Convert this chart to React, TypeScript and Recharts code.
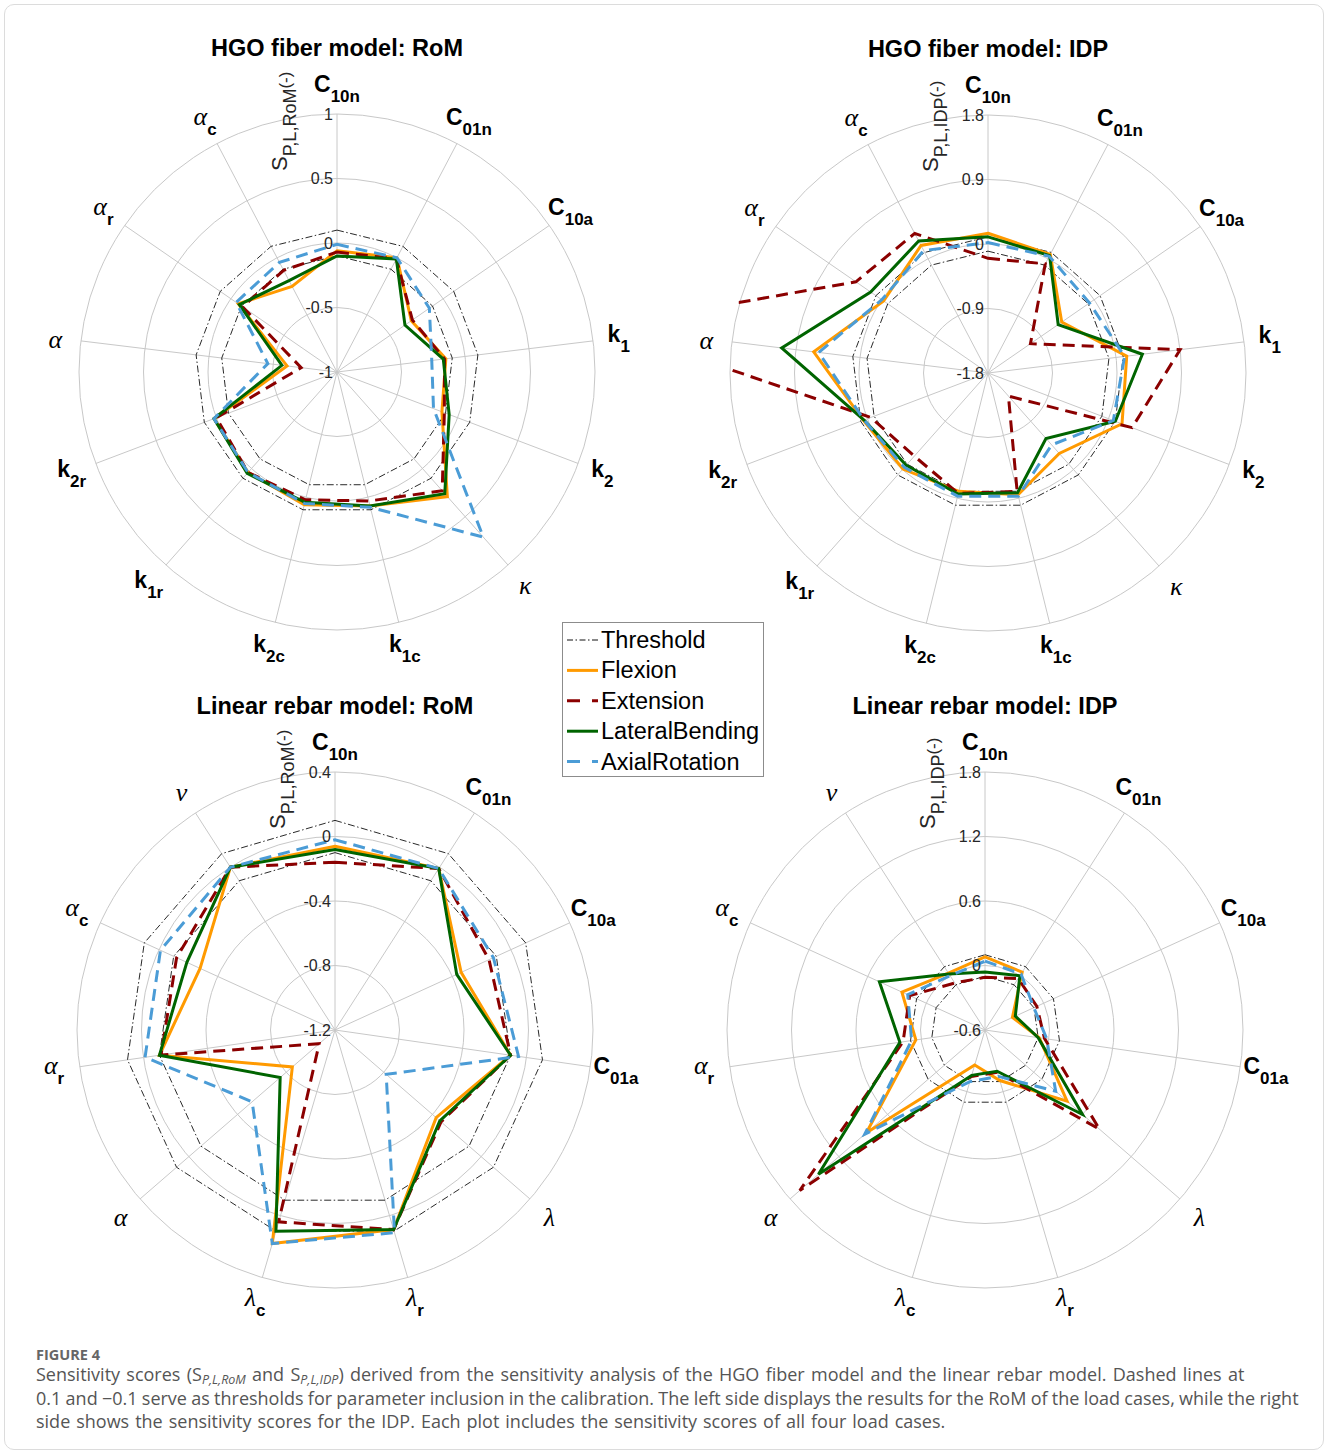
import { PolarAngleAxis, PolarGrid, PolarRadiusAxis, Radar, RadarChart } from "recharts";

const SANS = "'Liberation Sans', Arial, Helvetica, sans-serif";
const SERIF = "'Liberation Serif', 'Times New Roman', serif";

// axis categories (main_sub)
const hgoParams = ["C_10n", "C_01n", "C_10a", "k_1", "k_2", "κ", "k_1c", "k_2c", "k_1r", "k_2r", "α", "α_r", "α_c"];
const rebarParams = ["C_10n", "C_01n", "C_10a", "C_01a", "λ", "λ_r", "λ_c", "α", "α_r", "α_c", "ν"];

// radial ticks
const hgoRomTicks = [-1, -0.5, 0, 0.5, 1];
const hgoIdpTicks = [-1.8, -0.9, 0, 0.9, 1.8];
const rebarRomTicks = [-1.2, -0.8, -0.4, 0, 0.4];
const rebarIdpTicks = [-0.6, 0, 0.6, 1.2, 1.8];

// HGO fiber model: RoM
const hgoRomFlexion = [-0.06, 0.0, -0.3, -0.15, -0.13, 0.29, 0.07, 0.06, 0.04, 0.02, -0.61, -0.07, -0.25];
const hgoRomExtension = [-0.07, -0.01, -0.29, -0.16, -0.11, 0.23, 0.03, 0.02, 0.04, 0.0, -0.72, -0.11, -0.11];
const hgoRomLateral = [-0.1, -0.01, -0.36, -0.17, -0.07, 0.26, 0.07, 0.04, 0.05, 0.02, -0.57, -0.08, -0.2];
const hgoRomAxial = [-0.01, 0.0, -0.13, -0.26, -0.2, 0.71, 0.08, 0.05, 0.04, 0.02, -0.46, -0.05, -0.04];

// HGO fiber model: IDP
const hgoIdpFlexion = [0.15, 0.07, -0.55, 0.15, 0.2, -0.3, -0.05, -0.1, -0.01, 0.06, 0.65, -0.03, 0.21];
const hgoIdpExtension = [-0.2, -0.08, -1.08, 0.9, 0.35, -1.37, -0.1, -0.07, -0.25, -0.05, 3.6, 0.44, 0.4];
const hgoIdpLateral = [0.1, 0.05, -0.61, 0.37, 0.1, -0.58, -0.08, -0.06, -0.08, 0.05, 1.1, 0.19, 0.28];
const hgoIdpAxial = [0.02, 0.04, -0.08, 0.12, 0.07, -0.46, -0.03, -0.03, -0.04, 0.05, 0.58, 0.0, 0.13];

// Linear rebar model: RoM
const rebarRomFlexion = [-0.06, -0.01, -0.34, -0.1, -0.37, 0.09, 0.18, -0.85, -0.1, -0.28, 0.0];
const rebarRomExtension = [-0.16, -0.01, -0.15, -0.1, -0.33, 0.09, 0.04, -1.07, -0.11, -0.12, 0.0];
const rebarRomLateral = [-0.08, -0.01, -0.37, -0.1, -0.34, 0.09, 0.1, -0.75, -0.1, -0.19, 0.0];
const rebarRomAxial = [-0.02, -0.01, -0.12, -0.05, -0.78, 0.11, 0.18, -0.52, -0.01, -0.01, 0.0];

// Linear rebar model: IDP
const rebarIdpFlexion = [0.08, 0.04, -0.32, -0.09, 0.41, -0.11, -0.26, 0.86, 0.05, 0.25, 0.03];
const rebarIdpExtension = [-0.11, -0.03, -0.07, -0.04, 0.81, -0.19, -0.15, 1.68, 0.17, 0.17, -0.08];
const rebarIdpLateral = [-0.06, 0.0, -0.29, -0.1, 0.6, -0.2, -0.16, 1.45, 0.2, 0.48, 0.02];
const rebarIdpAxial = [0.04, 0.02, -0.1, -0.02, 0.27, -0.15, -0.1, 0.88, 0.09, 0.19, 0.0];

const THRESHOLD = 0.1;

const series = [
  { key: "flexion", name: "Flexion", color: "#FF9A00", dash: undefined as string | undefined },
  { key: "extension", name: "Extension", color: "#8B0000", dash: "12 7" },
  { key: "lateral", name: "LateralBending", color: "#006400", dash: undefined },
  { key: "axial", name: "AxialRotation", color: "#4B9CD6", dash: "12 7" },
];

const W = 664;
const H = 680;
const R = 258;

const panels = [
  { id: "tl", title: "HGO fiber model: RoM", metric: "RoM", left: 0, top: 0, cx: 337, cy: 372, params: hgoParams, ticks: hgoRomTicks,
    flexion: hgoRomFlexion, extension: hgoRomExtension, lateral: hgoRomLateral, axial: hgoRomAxial },
  { id: "tr", title: "HGO fiber model: IDP", metric: "IDP", left: 664, top: 0, cx: 324, cy: 373, params: hgoParams, ticks: hgoIdpTicks,
    flexion: hgoIdpFlexion, extension: hgoIdpExtension, lateral: hgoIdpLateral, axial: hgoIdpAxial },
  { id: "bl", title: "Linear rebar model: RoM", metric: "RoM", left: 0, top: 680, cx: 335, cy: 350, params: rebarParams, ticks: rebarRomTicks,
    flexion: rebarRomFlexion, extension: rebarRomExtension, lateral: rebarRomLateral, axial: rebarRomAxial },
  { id: "br", title: "Linear rebar model: IDP", metric: "IDP", left: 664, top: 680, cx: 321, cy: 350, params: rebarParams, ticks: rebarIdpTicks,
    flexion: rebarIdpFlexion, extension: rebarIdpExtension, lateral: rebarIdpLateral, axial: rebarIdpAxial },
];

const makeAngleTick = (cx: number, cy: number) => (props: any) => {
  let dx = props.x - cx;
  let dy = props.y - cy;
  if (typeof props.x !== "number") {
    const a = (props.payload.coordinate * Math.PI) / 180;
    dx = Math.cos(a);
    dy = -Math.sin(a);
  }
  const d = Math.hypot(dx, dy) || 1;
  const lx = cx + (dx / d) * R * 1.1;
  const ly = cy + (dy / d) * R * 1.1;
  const [main, sub] = String(props.payload.value).split("_");
  const greek = /[α-ω]/.test(main);
  return (
    <text x={lx} y={ly + (sub ? 4 : 10)} textAnchor="middle" fill="#000">
      <tspan
        fontFamily={greek ? SERIF : SANS}
        fontStyle={greek ? "italic" : "normal"}
        fontWeight={greek ? 400 : 700}
        fontSize={greek ? 26 : 23}
      >
        {main}
      </tspan>
      {sub && (
        <tspan fontFamily={SANS} fontWeight={700} fontSize={17} dy={10}>
          {sub}
        </tspan>
      )}
    </text>
  );
};

const RadiusTick = (props: any) => (
  <text x={props.x - 4} y={props.y} textAnchor="end" dominantBaseline="central" fontFamily={SANS} fontSize={16} fill="#262626">
    {String(props.payload.value)}
  </text>
);

const makeShape = (clipId: string, color: string, dash?: string) => (props: any) => {
  const pts: { x: number; y: number }[] = props.points || [];
  const d = pts.map((pt) => `${pt.x},${pt.y}`).join(" ");
  return <polygon points={d} fill="none" stroke={color} strokeWidth={3} strokeDasharray={dash} clipPath={`url(#${clipId})`} />;
};

type PanelDef = (typeof panels)[number];

const Panel = ({ p }: { p: PanelDef }) => {
  const rows = p.params.map((param, i) => ({
    param,
    flexion: p.flexion[i],
    extension: p.extension[i],
    lateral: p.lateral[i],
    axial: p.axial[i],
    thrLo: -THRESHOLD,
    thrHi: THRESHOLD,
  }));
  return (
    <div style={{ position: "absolute", left: p.left, top: p.top, width: W, height: H }}>
      <RadarChart
        width={W}
        height={H}
        data={rows}
        cx={p.cx}
        cy={p.cy}
        innerRadius={0}
        outerRadius={R}
        startAngle={90}
        endAngle={-270}
        margin={{ top: 0, right: 0, bottom: 0, left: 0 }}
      >
        <PolarGrid gridType="circle" stroke="#c8c8c8" strokeWidth={1} />
        <PolarAngleAxis dataKey="param" tick={makeAngleTick(p.cx, p.cy)} tickLine={false} axisLine={false} />
        {/* pow (exponent 1) keeps the fixed domain un-niced */}
        <PolarRadiusAxis
          angle={90}
          type="number"
          scale="pow"
          domain={[p.ticks[0], p.ticks[p.ticks.length - 1]]}
          ticks={p.ticks}
          allowDataOverflow
          tick={RadiusTick}
          axisLine={false}
          tickLine={false}
        />
        <Radar dataKey="thrLo" stroke="#111" strokeWidth={0.9} strokeDasharray="7 2.5 1.5 2.5" fill="none" fillOpacity={0} dot={false} isAnimationActive={false} />
        <Radar dataKey="thrHi" stroke="#111" strokeWidth={0.9} strokeDasharray="7 2.5 1.5 2.5" fill="none" fillOpacity={0} dot={false} isAnimationActive={false} />
        {series.map((s) => (
          <Radar
            key={s.key}
            dataKey={s.key}
            name={s.name}
            stroke={s.color}
            strokeWidth={3}
            strokeDasharray={s.dash}
            fill="none"
            fillOpacity={0}
            dot={false}
            isAnimationActive={false}
            shape={makeShape(`clip-${p.id}`, s.color, s.dash)}
          />
        ))}
      </RadarChart>
    </div>
  );
};

const legendRows = [
  { name: "Threshold", color: "#111", dash: "6 2.5 1.5 2.5", width: 1 },
  ...series.map((s) => ({ name: s.name, color: s.color, dash: s.dash ? "13 12" : undefined, width: 3 })),
];

const subStyle = { fontStyle: "italic", fontSize: 12.5, verticalAlign: "-3px", lineHeight: 0 };

export default function App() {
  return (
    <div style={{ position: "absolute", left: 0, top: 0, width: 1328, height: 1454, background: "#fff", overflow: "hidden" }}>
      <div
        style={{
          position: "absolute",
          left: 4,
          top: 4,
          width: 1318,
          height: 1444,
          border: "1px solid #dcdcdc",
          borderRadius: 10,
        }}
      />
      <svg width={0} height={0} style={{ position: "absolute" }}>
        <defs>
          {panels.map((p) => (
            <clipPath id={`clip-${p.id}`} key={p.id}>
              <circle cx={p.cx} cy={p.cy} r={R + 1.5} />
            </clipPath>
          ))}
        </defs>
      </svg>
      {panels.map((p) => (
        <Panel key={p.id} p={p} />
      ))}
      <svg width={1328} height={1454} style={{ position: "absolute", left: 0, top: 0, pointerEvents: "none" }}>
        {panels.map((p) => {
          const ax = p.left + p.cx;
          const ay = p.top + p.cy;
          return (
            <g key={p.id}>
              <text x={ax} y={ay - 316} textAnchor="middle" fontFamily={SANS} fontWeight={700} fontSize={23.5} fill="#000">
                {p.title}
              </text>
              <text transform={`translate(${ax - 50}, ${ay - 201}) rotate(-90)`} fontFamily={SANS} fontSize={22} fill="#262626">
                S
                <tspan fontSize={18} dy={9}>
                  P,L,{p.metric}
                </tspan>
                <tspan fontSize={17} dy={-5}>
                  (-)
                </tspan>
              </text>
            </g>
          );
        })}
        <rect x={562.5} y={622.5} width={201} height={154} fill="#fff" stroke="#8c8c8c" strokeWidth={1} />
        {legendRows.map((r, i) => {
          const y = 640 + i * 30.4;
          return (
            <g key={r.name}>
              <line x1={567} x2={598} y1={y} y2={y} stroke={r.color} strokeWidth={r.width} strokeDasharray={r.dash} />
              <text x={601} y={y} dominantBaseline="central" fontFamily={SANS} fontSize={23.5} fill="#000">
                {r.name}
              </text>
            </g>
          );
        })}
      </svg>
      <div
        style={{
          position: "absolute",
          left: 36,
          top: 1347,
          fontFamily: "'Open Sans', Lato, sans-serif",
          fontWeight: 700,
          fontSize: 14.5,
          color: "#666",
          lineHeight: "16px",
        }}
      >
        FIGURE 4
      </div>
      <div
        style={{
          position: "absolute",
          left: 36,
          top: 1363,
          fontFamily: "'Open Sans', Lato, sans-serif",
          fontSize: 18,
          color: "#555",
          lineHeight: "23.5px",
          whiteSpace: "nowrap",
        }}
      >
        <div style={{ wordSpacing: 1.6 }}>
          Sensitivity scores (S<span style={subStyle}>P,L,RoM</span> and S<span style={subStyle}>P,L,IDP</span>) derived from the sensitivity
          analysis of the HGO fiber model and the linear rebar model. Dashed lines at
        </div>
        <div style={{ wordSpacing: -0.4 }}>
          0.1 and −0.1 serve as thresholds for parameter inclusion in the calibration. The left side displays the results for the RoM of the load
          cases, while the right
        </div>
        <div style={{ wordSpacing: 1.3 }}>
          side shows the sensitivity scores for the IDP. Each plot includes the sensitivity scores of all four load cases.
        </div>
      </div>
    </div>
  );
}
